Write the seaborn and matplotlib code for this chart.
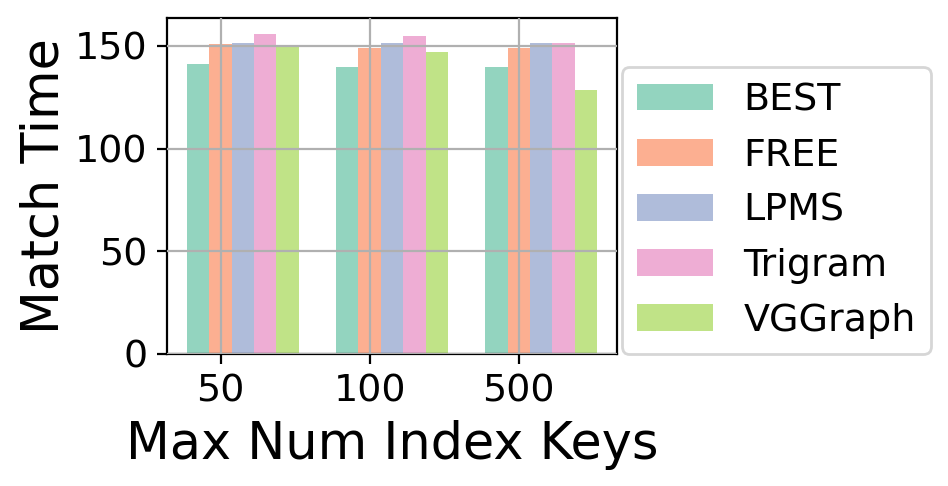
import matplotlib
matplotlib.use("Agg")
import matplotlib.pyplot as plt
import seaborn as sns
import pandas as pd

keys = ["50", "100", "500"]
methods = ["BEST", "FREE", "LPMS", "Trigram", "VGGraph"]
best = [141.4, 139.5, 139.5]
free = [150.8, 149.0, 149.0]
lpms = [151.6, 151.6, 151.6]
trigram = [155.7, 154.9, 151.5]
vggraph = [150.5, 147.1, 128.3]

series = [best, free, lpms, trigram, vggraph]
rows = []
for m, vals in zip(methods, series):
    for k, v in zip(keys, vals):
        rows.append({"key": k, "method": m, "time": v})
df = pd.DataFrame(rows)

fig = plt.figure(figsize=(4.74, 2.43), dpi=200)
ax = fig.add_axes([0.176, 0.272, 0.475, 0.691])
sns.barplot(data=df, x="key", y="time", hue="method", order=keys,
            hue_order=methods, palette="Set2", saturation=1, alpha=0.7,
            width=0.75, ax=ax, edgecolor="none")
ax.set_axisbelow(False)
ax.grid(True, color="#b0b0b0", linewidth=0.8)
ax.set_xticks([i - 0.15 for i in range(len(keys))])
ax.set_xticklabels(keys)
ax.set_xlim(-0.51, 2.51)
ax.set_ylim(0, 163.6)
ax.set_yticks([0, 50, 100, 150])
ax.tick_params(labelsize=13.7)
ax.set_xlabel("Max Num Index Keys", fontsize=18.3)
ax.set_ylabel("Match Time", fontsize=18.3, labelpad=2)
for s in ax.spines.values():
    s.set_color("black")
    s.set_linewidth(0.8)
ax.legend(loc="lower left", bbox_to_anchor=(1.01, 0.0), borderaxespad=0,
          fontsize=13.7, title=None)
fig.savefig("out.png", dpi=200)
